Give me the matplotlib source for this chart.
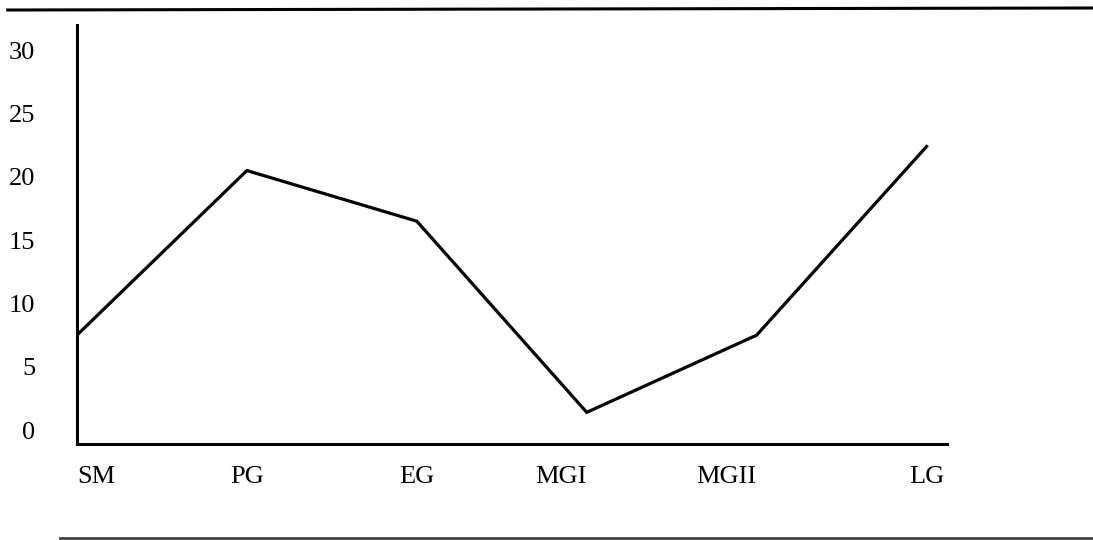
import matplotlib.pyplot as plt
from matplotlib.lines import Line2D

# stages along the x axis and the plotted values
stages = ["SM", "PG", "EG", "MGI", "MGII", "LG"]
values = [7.5, 20.5, 16.5, 1.4, 7.5, 22.4]
yticks = [0, 5, 10, 15, 20, 25, 30]

plt.rcParams['font.family'] = ['Liberation Serif', 'DejaVu Serif']

fig = plt.figure(figsize=(10.93, 5.4), dpi=100)
ax = fig.add_axes([0.0704, 0.1778, 0.796, 0.7759])

x = list(range(len(stages)))
ax.plot(x, values, color='black', lw=2.3, solid_joinstyle='miter')

ax.set_xlim(0, 5.12)
ax.set_ylim(-1.1, 32.0)

ax.spines['top'].set_visible(False)
ax.spines['right'].set_visible(False)
for s in ('left', 'bottom'):
    ax.spines[s].set_linewidth(2.2)

ax.set_yticks(yticks)
ax.set_yticklabels([str(v) for v in yticks], fontsize=19)
ax.tick_params(axis='y', length=0, pad=30)

ax.set_xticks(x)
ax.set_xticklabels(stages, fontsize=19)
ax.tick_params(axis='x', length=0, pad=16)
labs = ax.get_xticklabels()
labs[0].set_horizontalalignment('left')
labs[3].set_horizontalalignment('right')
labs[4].set_horizontalalignment('right')

# page rules from the scanned document
fig.add_artist(Line2D([0.007, 1.0], [1 - 10 / 540, 1 - 8 / 540], color='black', lw=2.2))
fig.add_artist(Line2D([0.055, 1.0], [1 - 538 / 540, 1 - 538 / 540], color='#444444', lw=2.0))

fig.savefig("out.png", dpi=100)
